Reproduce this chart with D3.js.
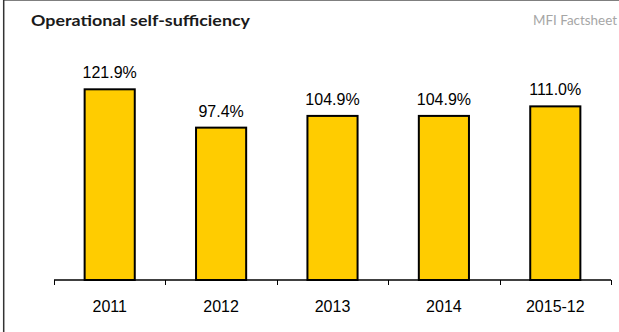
<!DOCTYPE html>
<html>
<head>
<meta charset="utf-8">
<script src="https://cdn.jsdelivr.net/npm/d3@7"></script>
<style>
  body { margin: 0; background: #fff; }
  svg { display: block; }
</style>
</head>
<body>
<div id="viz"></div>
<script>
var categories = ['2011', '2012', '2013', '2014', '2015-12']
var values = [121.9, 97.4, 104.9, 104.9, 111.0]
var valueLabels = ['121.9%', '97.4%', '104.9%', '104.9%', '111.0%']

var width = 619,
    height = 332,
    baseY = 280,
    barShare = 0.45;

var svg = d3.select('#viz')
  .append('svg')
  .attr('width', width)
  .attr('height', height)

// frame
svg.append('line')
  .attr('x1', 3).attr('x2', 619).attr('y1', 0.5).attr('y2', 0.5)
  .style('stroke', '#7f7f7f')
svg.append('line')
  .attr('x1', 3.7).attr('x2', 3.7).attr('y1', 0).attr('y2', height)
  .style('stroke', '#333').style('stroke-width', 1.5)

svg.append('text')
  .attr('x', 31).attr('y', 25.5)
  .attr('textLength', 219).attr('lengthAdjust', 'spacingAndGlyphs')
  .style('font-family', 'Lato, "DejaVu Sans", sans-serif')
  .style('font-weight', 'bold')
  .style('font-size', '15px')
  .style('fill', '#1a1a1a')
  .text('Operational self-sufficiency')

svg.append('text')
  .attr('x', 617).attr('y', 24.5)
  .attr('text-anchor', 'end')
  .attr('textLength', 84).attr('lengthAdjust', 'spacingAndGlyphs')
  .style('font-family', 'Lato, "DejaVu Sans", sans-serif')
  .style('font-size', '13px')
  .style('fill', '#a6a6a6')
  .text('MFI Factsheet')

var xScale = d3.scaleBand()
  .domain(categories)
  .range([54, 611])
  .padding(0)

var yScale = d3.scaleLinear()
  .domain([0, 140])
  .range([baseY, 61])

var barW = xScale.bandwidth() * barShare

var bars = svg.append('g')
  .selectAll('rect').data(values)
  .enter().append('rect')
  .attr('x', function(d, i) { return xScale(categories[i]) + (xScale.bandwidth() - barW) / 2; })
  .attr('y', function(d) { return yScale(d); })
  .attr('width', barW)
  .attr('height', function(d) { return baseY - yScale(d); })
  .style('fill', '#ffcc00')
  .style('stroke', '#000')
  .style('stroke-width', 2)

svg.append('g')
  .selectAll('text').data(values)
  .enter().append('text')
  .attr('x', function(d, i) { return xScale(categories[i]) + xScale.bandwidth() / 2; })
  .attr('y', function(d) { return yScale(d) - 11; })
  .attr('text-anchor', 'middle')
  .style('font-family', '"Liberation Sans", Arial, sans-serif')
  .style('font-size', '16px')
  .style('fill', '#000')
  .text(function(d, i) { return valueLabels[i]; })

// x axis: ticks sit on band edges, labels in the middle
var edges = categories.map(function(c) { return xScale(c); }).concat([xScale.range()[1]])

var axis = svg.append('g')
axis.append('line')
  .attr('x1', 54).attr('x2', 611).attr('y1', baseY).attr('y2', baseY)
  .style('stroke', '#000').style('stroke-width', 1.5)
axis.selectAll('.tick').data(edges)
  .enter().append('line')
  .attr('x1', function(d) { return Math.round(d) + 0.5; })
  .attr('x2', function(d) { return Math.round(d) + 0.5; })
  .attr('y1', baseY).attr('y2', baseY + 5)
  .style('stroke', '#000')
axis.selectAll('text').data(categories)
  .enter().append('text')
  .attr('x', function(d) { return xScale(d) + xScale.bandwidth() / 2; })
  .attr('y', 311.5)
  .attr('text-anchor', 'middle')
  .style('font-family', '"Liberation Sans", Arial, sans-serif')
  .style('font-size', '16px')
  .style('fill', '#000')
  .text(function(d) { return d; })
</script>
</body>
</html>
